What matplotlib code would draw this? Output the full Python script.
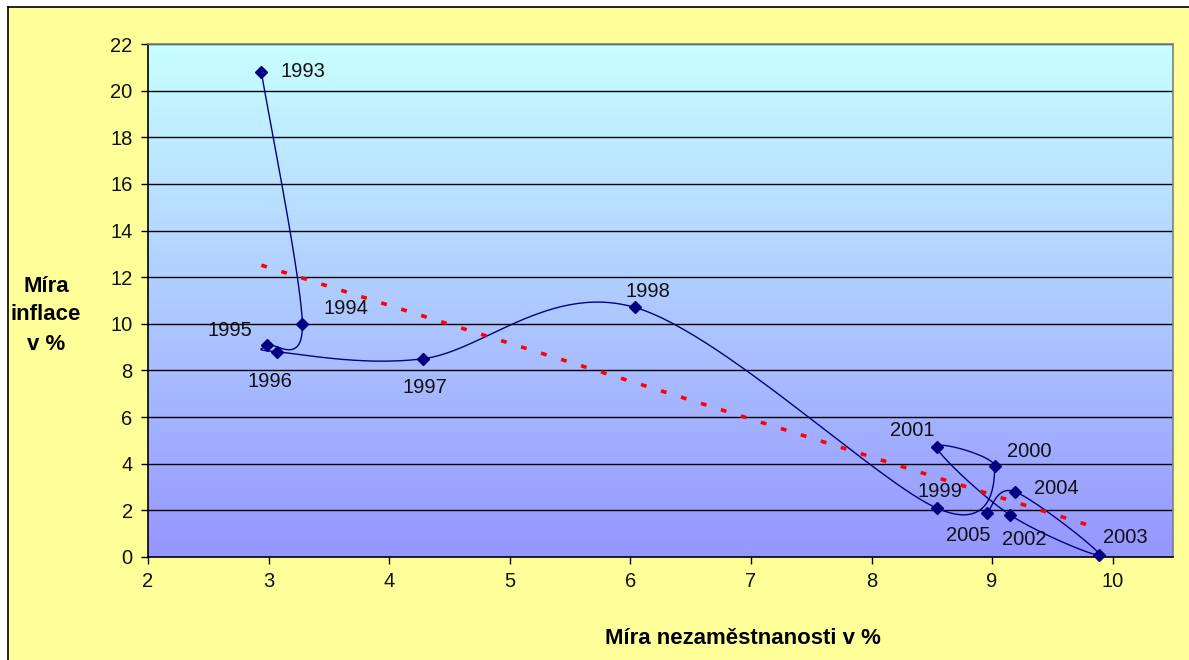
import numpy as np
import matplotlib
matplotlib.use("Agg")
import matplotlib.pyplot as plt
from matplotlib.patches import Rectangle
from matplotlib.lines import Line2D

plt.rcParams['font.family'] = ['Liberation Sans', 'DejaVu Sans']

years = ["1993", "1994", "1995", "1996", "1997", "1998", "1999",
         "2000", "2001", "2002", "2003", "2004", "2005"]
unemployment = [2.94, 3.28, 2.99, 3.07, 4.28, 6.04, 8.54, 9.02, 8.54, 9.15, 9.89, 9.19, 8.96]
inflation = [20.8, 10.0, 9.1, 8.8, 8.5, 10.7, 2.1, 3.9, 4.7, 1.8, 0.1, 2.8, 1.9]
y_ticks = list(range(0, 23, 2))
x_ticks = list(range(2, 11))

# label offsets in pixels (dx right, dy up)
label_offsets = [(42, 0), (44, 15), (-38, 14), (-7, -30), (2, -29), (13, 16), (3, 17),
                 (35, 15), (-24, 17), (14, -24), (26, 17), (41, 3), (-19, -23)]

W, H = 1189, 660
fig = plt.figure(figsize=(W / 100, H / 100), dpi=100, facecolor='white')

# yellow chart area with border
fig.patches.append(Rectangle((8 / W, 0), 1 - 8 / W, 1 - 7 / H, transform=fig.transFigure,
                             facecolor='#FFFF99', edgecolor='none', zorder=-10))
fig.lines.append(Line2D([8 / W, 8 / W], [0, 1 - 7 / H], transform=fig.transFigure, color='black', lw=1.2, zorder=-9))
fig.lines.append(Line2D([8 / W, 1], [1 - 7 / H, 1 - 7 / H], transform=fig.transFigure, color='black', lw=1.2, zorder=-9))

ax = fig.add_axes([148 / W, 1 - 557 / H, (1173 - 148) / W, (557 - 44) / H])
ax.set_zorder(1)
ax.set_xlim(2, 10.5)
ax.set_ylim(0, 22)

# gradient background
grad = np.linspace(0, 1, 256).reshape(-1, 1)
top = np.array([200, 255, 255]) / 255
bot = np.array([150, 150, 255]) / 255
img = bot + (top - bot) * grad[..., None]
img = np.repeat(img, 2, axis=1)
ax.imshow(img, extent=[2, 10.5, 0, 22], origin='lower', aspect='auto', zorder=0)

# gridlines
for yv in y_ticks[1:]:
    ax.axhline(yv, color='black', lw=1.0, zorder=1)

# smoothed line (Bezier like Excel)
pts = np.column_stack([unemployment, inflation])
sx, sy = 120.6, 23.32
P = pts * np.array([sx, sy])
curve = []
n = len(P)
for i in range(n - 1):
    p0 = P[i - 1] if i > 0 else P[i]
    p1 = P[i]
    p2 = P[i + 1]
    p3 = P[i + 2] if i + 2 < n else P[i + 1]
    c1 = p1 + (p2 - p0) / 6
    c2 = p2 - (p3 - p1) / 6
    t = np.linspace(0, 1, 60)[:, None]
    seg = ((1 - t) ** 3) * p1 + 3 * ((1 - t) ** 2) * t * c1 + 3 * (1 - t) * t ** 2 * c2 + t ** 3 * p2
    curve.append(seg)
curve = np.vstack(curve) / np.array([sx, sy])
ax.plot(curve[:, 0], curve[:, 1], color='#000080', lw=1.0, zorder=3, clip_on=False)
ax.plot(unemployment, inflation, linestyle='none', marker='D', ms=6.5, color='#000080',
        zorder=4, clip_on=False)

# linear trendline
coef = np.polyfit(unemployment, inflation, 1)
xt = np.array([min(unemployment), max(unemployment)])
ax.plot(xt, np.polyval(coef, xt), color='#FF0000', lw=2.6, linestyle=(0, (1.6, 4.2)), zorder=3)

for yr, x, y, (dx, dy) in zip(years, unemployment, inflation, label_offsets):
    ax.annotate(yr, (x, y), xytext=(dx, dy), textcoords='offset pixels',
                ha='center', va='center', fontsize=14.5, color='#111111', zorder=5)

ax.set_xticks(x_ticks)
ax.set_yticks(y_ticks)
ax.tick_params(axis='both', direction='out', length=5, width=1, labelsize=14.5, pad=6,
               labelcolor='#111111')
for s in ['left', 'bottom']:
    ax.spines[s].set_color('black')
    ax.spines[s].set_linewidth(1.2)
for s in ['top', 'right']:
    ax.spines[s].set_color('#808080')
    ax.spines[s].set_linewidth(1.2)

fig.text(46 / W, 1 - 315 / H, "Míra\ninflace\nv %", ha='center', va='center',
         fontsize=16, fontweight='bold', linespacing=1.5)
fig.text(743 / W, 1 - 638 / H, "Míra nezaměstnanosti v %", ha='center', va='center',
         fontsize=16, fontweight='bold')

fig.savefig("out.png", dpi=100, facecolor='white')
